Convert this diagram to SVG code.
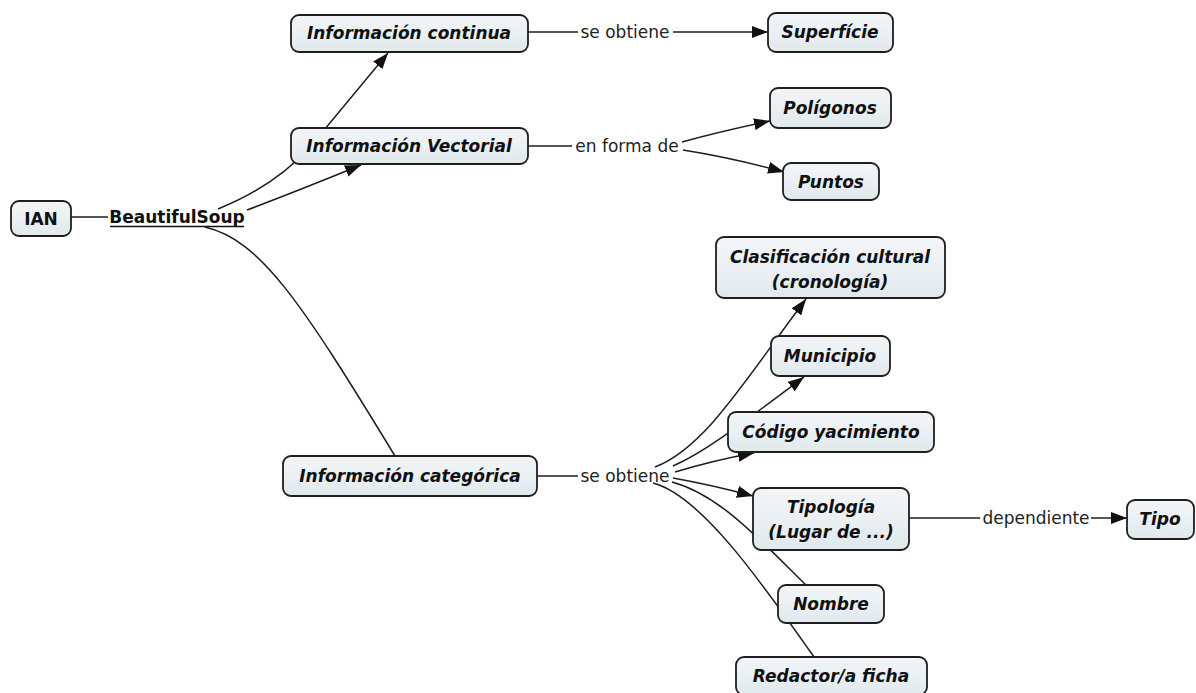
<svg xmlns="http://www.w3.org/2000/svg" width="1196" height="693" viewBox="0 0 1196 693">
<style>
.box{fill:url(#g);stroke:#1e1e1e;stroke-width:1.8}
.nt{font-family:"DejaVu Sans",Verdana,sans-serif;font-size:17px;font-weight:bold;font-style:italic;fill:#111;text-anchor:middle;dominant-baseline:central}
.nb{font-family:"DejaVu Sans",Verdana,sans-serif;font-size:17px;font-weight:bold;fill:#111;text-anchor:middle;dominant-baseline:central}
.lb{font-family:"DejaVu Sans",Verdana,sans-serif;font-size:17px;fill:#222;text-anchor:middle;dominant-baseline:central}
.c{fill:none;stroke:#1e1e1e;stroke-width:1.5}
.a{marker-end:url(#arr)}
</style>
<defs>
<linearGradient id="g" x1="0" y1="0" x2="0" y2="1">
<stop offset="0" stop-color="#f3f6f8"/>
<stop offset="1" stop-color="#e1e9ed"/>
</linearGradient>
<marker id="arr" markerUnits="userSpaceOnUse" markerWidth="16" markerHeight="12" refX="16" refY="6" orient="auto">
<path d="M0,0 L16,6 L0,12 z" fill="#111"/>
</marker>
</defs>
<rect width="1196" height="693" fill="#ffffff"/>
<g id="connectors">
<path class="c" d="M71,217 L108,217"/>
<path class="c a" d="M218,209 C250,196 285,175 310,147 L388,53"/>
<path class="c a" d="M247,210 Q300,190 361,165"/>
<path class="c" d="M205,227 C260,240 300,300 395,456"/>
<path class="c" d="M528,32 L578,32"/>
<path class="c a" d="M673,32 L768,32"/>
<path class="c" d="M528,146 L572,146"/>
<path class="c a" d="M682,142 Q722,131 770,121"/>
<path class="c a" d="M683,150 Q733,158 784,172"/>
<path class="c" d="M537,476 L578,476"/>
<path class="c a" d="M655,467 C705,448 745,380 806,299"/>
<path class="c a" d="M673,466 C705,452 740,425 804,377"/>
<path class="c a" d="M675,472 Q715,460 754,453"/>
<path class="c a" d="M673,478 Q712,485 753,496"/>
<path class="c" d="M672,482 C720,495 760,540 807,586"/>
<path class="c" d="M653,483 C700,495 760,580 814,657"/>
<path class="c" d="M909,518 L980,518"/>
<path class="c a" d="M1091,518 L1127,518"/>
</g>
<g id="labels">
<text class="lb" x="625" y="32">se obtiene</text>
<text class="lb" x="627" y="146">en forma de</text>
<text class="lb" x="625" y="476">se obtiene</text>
<text class="lb" x="1036" y="518">dependiente</text>
</g>
<g id="n-ian"><rect class="box" x="11" y="201" width="60" height="35" rx="8"/><text class="nb" x="41" y="219">IAN</text></g>
<g id="n-bs"><text class="nb" x="177" y="217">BeautifulSoup</text><line x1="110" y1="226.5" x2="244" y2="226.5" stroke="#111" stroke-width="1.6"/></g>
<g id="n-continua"><rect class="box" x="291" y="15" width="237" height="37" rx="8"/><text class="nt" x="409" y="33">Información continua</text></g>
<g id="n-superficie"><rect class="box" x="768" y="13" width="125" height="39" rx="8"/><text class="nt" x="830" y="32">Superfície</text></g>
<g id="n-vectorial"><rect class="box" x="291" y="128" width="237" height="36" rx="8"/><text class="nt" x="409" y="146">Información Vectorial</text></g>
<g id="n-poligonos"><rect class="box" x="770" y="88" width="121" height="40" rx="8"/><text class="nt" x="830" y="108">Polígonos</text></g>
<g id="n-puntos"><rect class="box" x="783" y="163" width="96" height="37" rx="8"/><text class="nt" x="831" y="182">Puntos</text></g>
<g id="n-clasificacion"><rect class="box" x="716" y="237" width="229" height="61" rx="8"/><text class="nt" x="830" y="257">Clasificación cultural</text><text class="nt" x="830" y="282">(cronología)</text></g>
<g id="n-municipio"><rect class="box" x="771" y="336" width="119" height="40" rx="8"/><text class="nt" x="830" y="356">Municipio</text></g>
<g id="n-codigo"><rect class="box" x="728" y="412" width="206" height="40" rx="8"/><text class="nt" x="831" y="432">Código yacimiento</text></g>
<g id="n-categorica"><rect class="box" x="283" y="456" width="254" height="40" rx="8"/><text class="nt" x="410" y="476">Información categórica</text></g>
<g id="n-tipologia"><rect class="box" x="753" y="488" width="156" height="62" rx="8"/><text class="nt" x="831" y="507">Tipología</text><text class="nt" x="831" y="532">(Lugar de ...)</text></g>
<g id="n-tipo"><rect class="box" x="1127" y="500" width="67" height="39" rx="8"/><text class="nt" x="1160" y="519">Tipo</text></g>
<g id="n-nombre"><rect class="box" x="778" y="585" width="106" height="38" rx="8"/><text class="nt" x="831" y="604">Nombre</text></g>
<g id="n-redactor"><rect class="box" x="736" y="657" width="191" height="38" rx="8"/><text class="nt" x="831" y="676">Redactor/a ficha</text></g>
</svg>
